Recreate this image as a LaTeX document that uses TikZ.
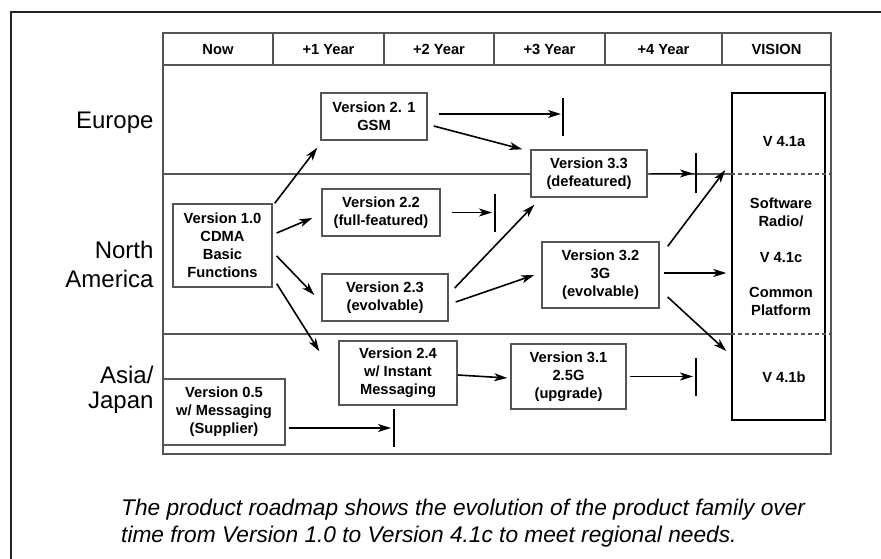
\documentclass[tikz,border=0pt]{standalone}
\usepackage{fontspec}
\setmainfont{Liberation Sans}
\usetikzlibrary{arrows.meta}

\definecolor{gridline}{HTML}{555555}
\definecolor{framecol}{HTML}{222222}

\tikzset{
  vbox/.style={draw=gridline, line width=1.4pt, fill=white, inner sep=0pt,
    align=center, font=\bfseries\fontsize{14.7}{18}\selectfont},
  hdr/.style={font=\bfseries\fontsize{14.7}{18}\selectfont},
  colhead/.style={hdr, anchor=base},
  region/.style={anchor=east, align=right, font=\fontsize{24}{29}\selectfont},
  flow/.style={line width=1.6pt, -{Stealth[length=13pt,width=8pt,inset=3.5pt]}},
  stopbar/.style={line width=2.8pt, black},
  grid/.style={draw=gridline, line width=1.4pt},
}

\begin{document}
\begin{tikzpicture}[x=1pt,y=-1pt]
\useasboundingbox (0,0) rectangle (881,559);
\fill[white] (0,0) rectangle (881,559);

% page frame (only the top and left edges lie inside the picture)
\draw[framecol, line width=2.6pt] (11,559) -- (11,12) -- (881,12);

% table grid
\draw[grid] (163,33) rectangle (831,454);
\draw[grid] (163,65) -- (831,65);
\foreach \xx in {273,384,494,605,722} \draw[grid] (\xx,33) -- (\xx,65);
\draw[grid] (163,174) -- (732,174);
\draw[grid] (163,334) -- (732,334);

% column headings (on a common baseline)
\node[colhead] (hnow) at (218,54.5) {Now};
\node[colhead] (h1) at (328.5,54.5) {+1 Year};
\node[colhead] (h2) at (439,54.5) {+2 Year};
\node[colhead] (h3) at (549.5,54.5) {+3 Year};
\node[colhead] (h4) at (663.5,54.5) {+4 Year};
\node[colhead] (hv) at (776.5,54.5) {VISION};

% regions
\node[region] (eu) at (157,123) {Europe};
\node[region] (na) at (157,264) {North\\America};
\node[region, font=\fontsize{24}{25}\selectfont] (as) at (157,390) {Asia/\\Japan};

% vision column
\node[vbox, draw=black, minimum width=93pt, minimum height=327pt] (vis) at (778.5,256.5) {};
\draw[grid, dashed, dash pattern=on 4pt off 3pt] (vis.west |- 0,174) -- (831,174);
\draw[grid, dashed, dash pattern=on 4pt off 3pt] (vis.west |- 0,334) -- (831,334);
\node[hdr] (va) at (784,142) {V 4.1a};
\node[hdr, align=center] (vc) at (781,257) {Software\\Radio/\\[18pt]V 4.1c\\[17pt]Common\\Platform};
\node[hdr] (vb) at (784,377) {V 4.1b};

% version boxes
\node[vbox, minimum width=106pt, minimum height=47pt] (v21) at (374,116.5) {Version 2. 1\\GSM};
\node[vbox, minimum width=118pt, minimum height=47pt] (v22) at (381,212.5) {Version 2.2\\(full-featured)};
\node[vbox, minimum width=99pt, minimum height=83pt] (v10) at (222.5,245.5) {Version 1.0\\CDMA\\Basic\\Functions};
\node[vbox, minimum width=126pt, minimum height=47pt] (v23) at (385,297.5) {Version 2.3\\(evolvable)};
\node[vbox, minimum width=118pt, minimum height=64pt] (v24) at (398,373) {Version 2.4\\w/ Instant\\Messaging};
\node[vbox, minimum width=122pt, minimum height=66pt] (v05) at (224,412) {Version 0.5\\w/ Messaging\\(Supplier)};
\node[vbox, minimum width=116pt, minimum height=47pt] (v33) at (589,173.5) {Version 3.3\\(defeatured)};
\node[vbox, minimum width=117pt, minimum height=66pt] (v32) at (600.5,275) {Version 3.2\\3G\\(evolvable)};
\node[vbox, minimum width=115pt, minimum height=65pt] (v31) at (568.5,376.5) {Version 3.1\\2.5G\\(upgrade)};

% line continuing from Version 3.3 to the vision column
\draw[grid] (v33.east) -- (vis.west |- v33.east);

% end-of-life bars
\coordinate (b1) at (563,114);
\coordinate (b2) at (696,173.5);
\coordinate (b3) at (495,212.5);
\coordinate (b4) at (696,376.5);
\coordinate (b5) at (394,428);
\draw[stopbar] ([yshift=16pt]b1) -- ([yshift=-22pt]b1);
\draw[stopbar] ([yshift=20pt]b2) -- ([yshift=-19pt]b2);
\draw[stopbar] ([yshift=19pt]b3) -- ([yshift=-19pt]b3);
\draw[stopbar] ([yshift=19pt]b4) -- ([yshift=-19pt]b4);
\draw[stopbar] ([yshift=19pt]b5) -- ([yshift=-19pt]b5);

% transitions
\draw[flow] ([shift={(2pt,0pt)}]v10.north east) -- ([shift={(-3pt,-7pt)}]v21.south west);
\draw[flow] ([shift={(4pt,12.5pt)}]v10.east) -- ([shift={(-9pt,-5.5pt)}]v22.west);
\draw[flow] ([shift={(4pt,-10.5pt)}]v10.east) -- ([shift={(-7pt,2.5pt)}]v23.west);
\draw[flow] ([shift={(4pt,4pt)}]v10.south east) -- ([shift={(-19pt,-11pt)}]v24.north west);

\draw[flow, shorten >=2pt] ([shift={(11pt,2.5pt)}]v21.east) -- (b1);
\draw[flow] ([shift={(6pt,-9.5pt)}]v21.east) -- ([shift={(-8pt,0pt)}]v33.north west);
\draw[flow, shorten >=3pt] ([shift={(3pt,0pt)}]v33.east) -- (b2);
\draw[flow, shorten >=3pt] ([shift={(11pt,0pt)}]v22.east) -- (b3);

\draw[flow] ([shift={(6pt,9.5pt)}]v23.east) -- ([shift={(4pt,-7pt)}]v33.south west);
\draw[flow] ([shift={(7pt,-4.5pt)}]v23.east) -- ([shift={(-7pt,0pt)}]v32.west);

\draw[flow] ([shift={(8pt,-5pt)}]v32.north east) -- ([shift={(-6pt,86.5pt)}]vis.west);
\draw[flow] ([shift={(4pt,2pt)}]v32.east) -- ([shift={(-5pt,-16.5pt)}]vis.west);
\draw[flow] ([shift={(8pt,-22pt)}]v32.east) -- ([shift={(-5pt,-94.5pt)}]vis.west);

\draw[flow] ([shift={(0pt,-2pt)}]v24.east) -- ([shift={(-3pt,-1.5pt)}]v31.west);
\draw[flow, shorten >=3pt] ([shift={(3pt,0pt)}]v31.east) -- (b4);
\draw[flow, shorten >=3pt] ([shift={(3pt,-16pt)}]v05.east) -- (b5);

% caption
\node[anchor=north west, align=left, inner sep=0pt,
      font=\itshape\fontsize{22.7}{27}\selectfont] (cap) at (121,499)
  {The product roadmap shows the evolution of the product family over\\
   time from Version 1.0 to Version 4.1c to meet regional needs.};
\end{tikzpicture}
\end{document}
